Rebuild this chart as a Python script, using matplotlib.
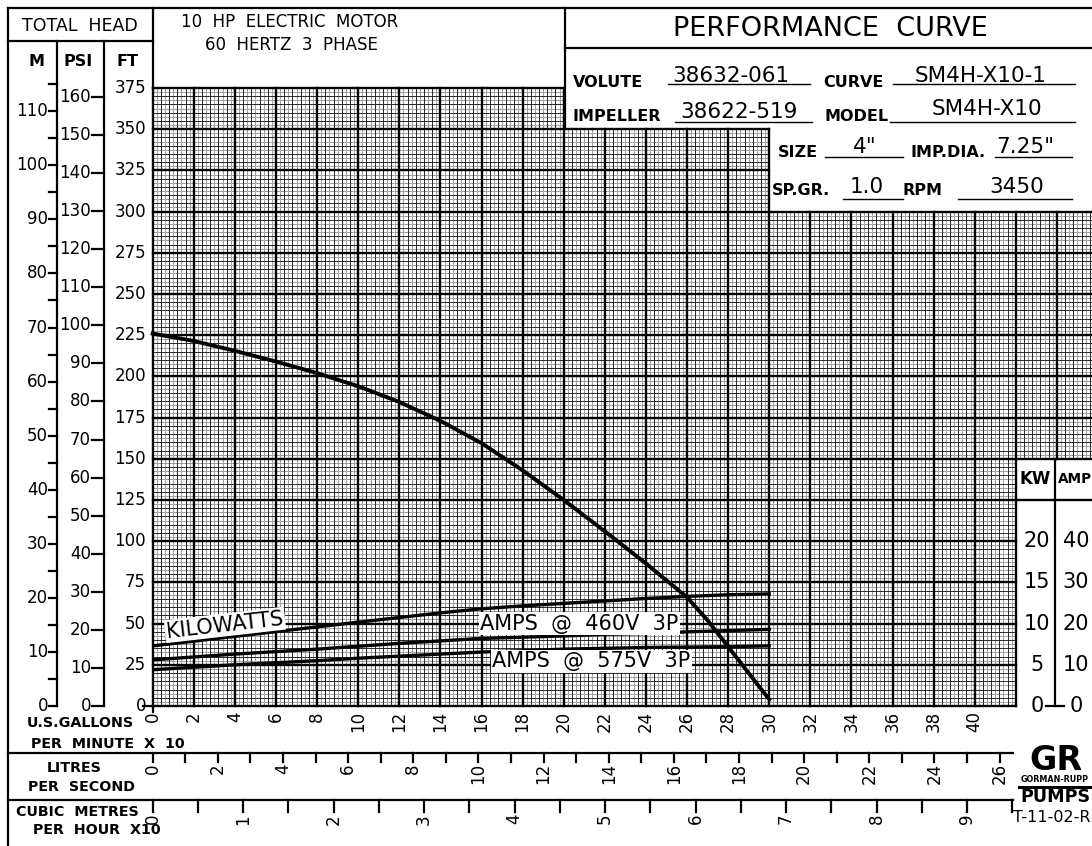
import numpy as np
import matplotlib
matplotlib.use('Agg')
import matplotlib.pyplot as plt
from matplotlib.collections import LineCollection
from matplotlib.transforms import blended_transform_factory as btf

# ---- curve data (flow in US gpm x 10) ----
head_gpm = [0, 2, 4, 6, 8, 10, 12, 14, 16, 18, 20, 22, 24, 26, 27, 28, 29, 30]
head_ft = [226, 221.5, 215.5, 209, 202, 194, 184.5, 173, 159.5, 143, 125, 106, 86.5, 66, 52, 36, 20, 4]

flow = [0, 2, 4, 6, 8, 10, 12, 14, 16, 18, 20, 22, 24, 26, 28, 30]
kw = [7.3, 7.87, 8.45, 9.02, 9.6, 10.17, 10.74, 11.3, 11.8, 12.15, 12.45, 12.75, 13.05, 13.3, 13.5, 13.6]
amps_460 = [11.2, 11.9, 12.6, 13.2, 13.8, 14.5, 15.2, 15.8, 16.4, 16.7, 17.0, 17.4, 17.6, 18.0, 18.3, 18.6]
amps_575 = [8.8, 9.4, 10.0, 10.5, 11.0, 11.6, 12.1, 12.6, 13.1, 13.4, 13.8, 14.0, 14.2, 14.3, 14.4, 14.6]

# ---- scales ----
ft_ticks = list(range(0, 376, 25))
m_ticks = list(range(0, 116, 5))
psi_ticks = list(range(0, 161, 10))
gpm_ticks = list(range(0, 41, 2))
lps_ticks = list(range(0, 27))
m3h_ticks = [i * 0.5 for i in range(0, 20)]
kw_ticks = [0, 5, 10, 15, 20]
amp_ticks = [0, 10, 20, 30, 40]

info_labels = ["VOLUTE", "CURVE", "IMPELLER", "MODEL", "SIZE", "IMP.DIA.", "SP.GR.", "RPM"]
info_values = ["38632-061", "SM4H-X10-1", "38622-519", "SM4H-X10", '4"', '7.25"', "1.0", "3450"]

FT_PER_M = 3.2808
FT_PER_PSI = 2.31
GPM10_PER_LPS = 1.58503
GPM10_PER_M3H10 = 4.40287
FT_PER_KW = 5.0
FT_PER_AMP = 2.5

W, H = 1092, 846
fig = plt.figure(figsize=(W / 100, H / 100), dpi=100)
pix = fig.add_axes([0, 0, 1, 1])
pix.set_xlim(0, W)
pix.set_ylim(H, 0)
pix.axis('off')

X0, Y0, SX, SY = 152.7, 706.0, 20.55, 1.648
XR = (W - X0) / SX
ax = fig.add_axes([X0 / W, (H - Y0) / H, (W - X0) / W, 375 * SY / H])
ax.set_xlim(0, XR)
ax.set_ylim(0, 375)
ax.axis('off')

ax_m = ax.twinx(); ax_m.set_ylim(0, 375 / FT_PER_M); ax_m.axis('off')
ax_psi = ax.twinx(); ax_psi.set_ylim(0, 375 / FT_PER_PSI); ax_psi.axis('off')
ax_kw = ax.twinx(); ax_kw.set_ylim(0, 375 / FT_PER_KW); ax_kw.axis('off')
ax_amp = ax.twinx(); ax_amp.set_ylim(0, 375 / FT_PER_AMP); ax_amp.axis('off')

tx_bot = btf(ax.transData, pix.transData)
tx_ft = btf(pix.transData, ax.transData)
tx_m = btf(pix.transData, ax_m.transData)
tx_psi = btf(pix.transData, ax_psi.transData)
tx_kw = btf(pix.transData, ax_kw.transData)
tx_amp = btf(pix.transData, ax_amp.transData)

LW = 1.6
K = 'black'

# ---- grid ----
gray, minor, major = [], [], []
for i in range(int(XR / 0.2) + 1):
    v = i * 0.2
    top = 375 if i <= 100 else (350 if i <= 150 else 300)
    bot = 0 if i <= 210 else 150
    seg = [(v, bot), (v, top)]
    if i % 10 == 0:
        major.append(seg)
    elif i % 2 == 0:
        minor.append(seg)
    else:
        gray.append(seg)
for j in range(151):
    h = j * 2.5
    right = 20 if j > 140 else (30 if j > 120 else XR)
    if j < 60:
        right = 42
    seg = [(0, h), (right, h)]
    if j % 10 == 0:
        major.append(seg)
    elif j % 2 == 0:
        minor.append(seg)
    else:
        gray.append(seg)
ax.add_collection(LineCollection(gray, colors='#a2a2a2', linewidths=0.75, clip_on=False, zorder=1))
ax.add_collection(LineCollection(minor, colors='#1a1a1a', linewidths=0.65, clip_on=False, zorder=2))
ax.add_collection(LineCollection(major, colors=K, linewidths=1.7, clip_on=False, zorder=3,
                                 capstyle='projecting'))
ax.plot([42, XR], [125, 125], color=K, lw=1.7, clip_on=False, zorder=3)

# ---- curves ----
ax.plot(head_gpm, head_ft, color=K, lw=2.8, zorder=6, clip_on=False)
ax_kw.plot(flow, kw, color=K, lw=2.4, zorder=6)
ax_amp.plot(flow, amps_460, color=K, lw=2.4, zorder=6)
ax_amp.plot(flow, amps_575, color=K, lw=2.4, zorder=6)

wb = dict(facecolor='white', edgecolor='none', pad=1.0)
ax_amp.text(3.52, 49.2, "KILOWATTS", transform=ax.transData, rotation=6.5, rotation_mode='anchor',
            ha='center', va='center', fontsize=15, bbox=wb, zorder=8)
ax_amp.text(20.76, 49.8, "AMPS  @  460V  3P", transform=ax.transData, ha='center', va='center',
            fontsize=15, bbox=wb, zorder=8)
ax_amp.text(21.34, 27.2, "AMPS  @  575V  3P", transform=ax.transData, ha='center', va='center',
            fontsize=15, bbox=wb, zorder=8)

# ---- frame lines ----
def seg(x, y, **kw_):
    pix.plot(x, y, color=K, lw=kw_.pop('lw', LW), solid_capstyle='projecting', **kw_)

seg([8, W], [8, 8])
seg([8, 8], [8, H])
seg([8, 152.7], [41, 41])
seg([57, 57], [41, Y0])
seg([104, 104], [41, Y0])
seg([152.7, 152.7], [8, 88])
seg([565, 565], [8, 129])
seg([565, W], [48, 48])
seg([8, 1013], [753, 753])
seg([8, 1013], [800, 800])

pix.text(80, 26, "TOTAL  HEAD", ha='center', va='center', fontsize=12.5)
pix.text(37, 61, "M", ha='center', va='center', fontsize=11.5, fontweight='bold')
pix.text(78, 61, "PSI", ha='center', va='center', fontsize=11.5, fontweight='bold')
pix.text(127, 62, "FT", ha='center', va='center', fontsize=11.5, fontweight='bold')
pix.text(290, 22, "10  HP  ELECTRIC  MOTOR", ha='center', va='center', fontsize=12)
pix.text(291, 45, "60  HERTZ  3  PHASE", ha='center', va='center', fontsize=12)
pix.text(830, 29, "PERFORMANCE  CURVE", ha='center', va='center', fontsize=19.5)

# label x, label baseline, value center x, value baseline, underline x0, x1, y
info_layout = [
    (573, 87, 731, 82, 668, 810, 84),
    (823, 87, 981, 82, 893, 1075, 84),
    (573, 121, 739, 118, 675, 812, 122),
    (825, 121, 987, 115, 890, 1075, 122),
    (778, 157, 865, 153, 825, 903, 157),
    (910, 157, 1025, 153, 995, 1072, 157),
    (772, 195, 867, 193, 843, 903, 199),
    (903, 195, 1017, 193, 958, 1072, 199),
]
for lab, val, (lx, ly, vx, vy, u0, u1, uy) in zip(info_labels, info_values, info_layout):
    pix.text(lx, ly, lab, ha='left', va='baseline', fontsize=11.5, fontweight='bold')
    pix.text(vx, vy, val, ha='center', va='baseline', fontsize=15.5)
    pix.plot([u0, u1], [uy, uy], color=K, lw=1.0)

# ---- left head scales ----
for m in m_ticks:
    pix.plot([49, 57], [m, m], color=K, lw=LW, transform=tx_m)
    if m % 10 == 0:
        pix.text(48, m, str(m), transform=tx_m, ha='right', va='center', fontsize=12)
for p in psi_ticks:
    pix.plot([92, 104], [p, p], color=K, lw=LW, transform=tx_psi)
    pix.text(91, p, str(p), transform=tx_psi, ha='right', va='center', fontsize=12)
for f in ft_ticks:
    pix.text(146, f, str(f), transform=tx_ft, ha='right', va='center', fontsize=12)
pix.plot([143, 153], [0, 0], color=K, lw=LW, transform=tx_ft)

# ---- bottom flow scales ----
pix.plot([0, 0], [Y0, 712], color=K, lw=LW, transform=tx_bot)
for g in gpm_ticks:
    pix.text(g, 711, str(g), transform=tx_bot, rotation=90, ha='center', va='top', fontsize=12)
for L in lps_ticks:
    gx = L * GPM10_PER_LPS
    pix.plot([gx, gx], [753, 762], color=K, lw=LW, transform=tx_bot)
    if L % 2 == 0:
        pix.text(gx, 763, str(L), transform=tx_bot, rotation=90, ha='center', va='top', fontsize=12)
for c in m3h_ticks:
    gx = c * GPM10_PER_M3H10
    pix.plot([gx, gx], [800, 812], color=K, lw=LW, transform=tx_bot)
    if c == int(c):
        pix.text(gx, 814, str(int(c)), transform=tx_bot, rotation=90, ha='center', va='top', fontsize=12)

bf = dict(ha='center', va='center', fontsize=10.3, fontweight='bold')
pix.text(80, 723, "U.S.GALLONS", **bf)
pix.text(108, 744, "PER  MINUTE  X  10", **bf)
pix.text(74, 768, "LITRES", **bf)
pix.text(81, 787, "PER  SECOND", **bf)
pix.text(77, 812, "CUBIC  METRES", **bf)
pix.text(97, 830, "PER  HOUR  X10", **bf)

# ---- KW / AMPS scale ----
pix.plot([1055, 1055], [0, 150], color=K, lw=LW, transform=tx_ft)
pix.plot([1046, 1064], [0, 0], color=K, lw=LW, transform=tx_ft)
pix.text(1035, 479, "KW", ha='center', va='center', fontsize=12, fontweight='bold')
pix.text(1058, 479, "AMP", ha='left', va='center', fontsize=9.8, fontweight='bold')
for k in kw_ticks:
    pix.text(1037, k, str(k), transform=tx_kw, ha='center', va='center', fontsize=15)
for a in amp_ticks:
    pix.text(1076, a, str(a), transform=tx_amp, ha='center', va='center', fontsize=15)

# ---- logo / drawing number ----
pix.text(1056, 760, "GR", ha='center', va='center', fontsize=24, fontweight='heavy')
pix.text(1055, 780, "GORMAN-RUPP", ha='center', va='center', fontsize=5.8, fontweight='bold')
pix.plot([1019, 1091], [787, 787], color=K, lw=2.2)
pix.text(1055, 797, "PUMPS", ha='center', va='center', fontsize=12.6, fontweight='heavy')
pix.text(1013, 817, "T-11-02-R", ha='left', va='center', fontsize=11.5)

fig.savefig('out.png', dpi=100)
